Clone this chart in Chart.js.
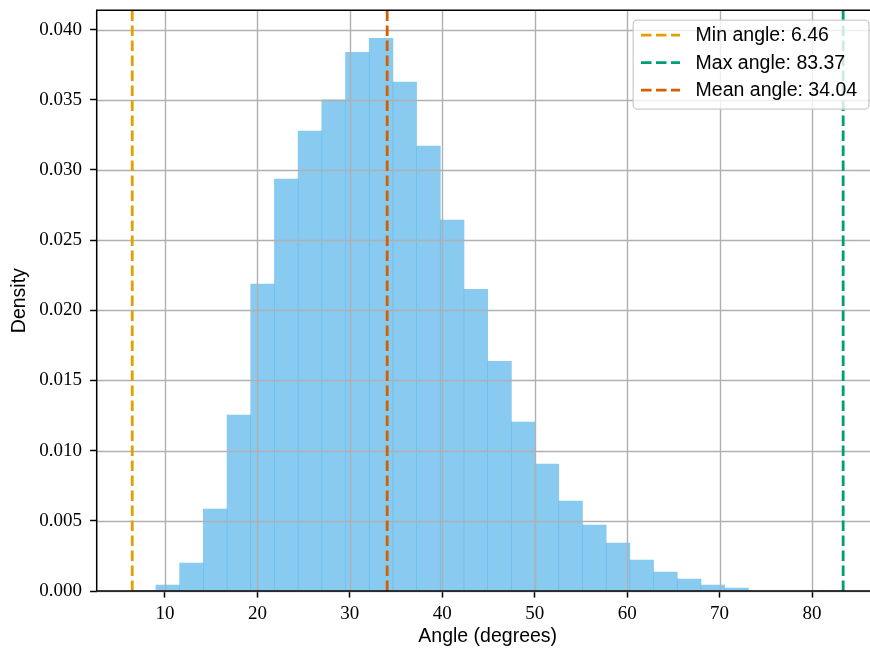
<!DOCTYPE html>
<html lang="en">
<head>
    <meta charset="UTF-8">
    <title>Angle distribution</title>
    <style>
        body {
            margin: 0;
            overflow: hidden;
            background-color: #fff;
        }
        .chart-container {
            width: 880px;
            height: 650px;
        }
    </style>
</head>
<body>
    <div class="chart-container">
        <canvas id="histChart"></canvas>
    </div>

    <script src="https://cdn.jsdelivr.net/npm/chart.js"></script>
    <script>
        // Histogram bin edges (30 bins between min and max angle)
        var binEdges = [6.46, 9.024, 11.587, 14.151, 16.715, 19.278, 21.842, 24.406, 26.969, 29.533,
            32.097, 34.66, 37.224, 39.788, 42.351, 44.915, 47.479, 50.042, 52.606, 55.17,
            57.733, 60.297, 62.861, 65.424, 67.988, 70.552, 73.115, 75.679, 78.243, 80.806, 83.37];
        // Density per bin
        var density = [0.00001, 0.00043, 0.00199, 0.00583, 0.01253, 0.02186, 0.02934, 0.03276, 0.03499, 0.03838,
            0.03938, 0.03625, 0.03169, 0.02642, 0.0215, 0.01637, 0.01203, 0.00904, 0.0064, 0.00469,
            0.00341, 0.0022, 0.00135, 0.00085, 0.00043, 0.0002, 0, 0, 0, 0.00001];

        var minAngle = 6.46;
        var maxAngle = 83.37;
        var meanAngle = 34.04;

        var xTicks = [10, 20, 30, 40, 50, 60, 70, 80];
        var yTicks = [0, 0.005, 0.01, 0.015, 0.02, 0.025, 0.03, 0.035, 0.04];

        var xMin = 2.615, xMax = 87.215;
        var yMin = 0, yMax = 0.04137;

        var serif = "'Liberation Serif', 'DejaVu Serif', serif";
        var sans = "'Liberation Sans', Arial, sans-serif";
        var dash = [10.5, 4.5];

        var barData = density.map(function (d, i) {
            return { x: (binEdges[i] + binEdges[i + 1]) / 2, y: d };
        });

        function vline(label, value, color) {
            return {
                type: 'line',
                label: label + ': ' + value.toFixed(2),
                data: [{ x: value, y: yMin }, { x: value, y: yMax }],
                borderColor: color,
                borderWidth: 2.8,
                borderDash: dash,
                pointRadius: 0,
                fill: false,
                order: 0
            };
        }

        // grid above the bars but below the dashed lines, like matplotlib
        var gridPlugin = {
            id: 'gridOverBars',
            afterDatasetDraw: function (chart, args) {
                if (args.index !== 0) return;
                var ctx = chart.ctx, area = chart.chartArea;
                var xs = chart.scales.x, ys = chart.scales.y;
                ctx.save();
                ctx.strokeStyle = '#b0b0b0';
                ctx.lineWidth = 1.4;
                ctx.beginPath();
                xTicks.forEach(function (v) {
                    var px = Math.round(xs.getPixelForValue(v)) + 0.5;
                    ctx.moveTo(px, area.top);
                    ctx.lineTo(px, area.bottom);
                });
                yTicks.forEach(function (v) {
                    var py = Math.round(ys.getPixelForValue(v)) + 0.5;
                    ctx.moveTo(area.left, py);
                    ctx.lineTo(area.right, py);
                });
                ctx.stroke();
                ctx.restore();
            },
            afterDatasetsDraw: function (chart) {
                var ctx = chart.ctx, area = chart.chartArea;
                ctx.save();
                ctx.strokeStyle = '#000';
                ctx.lineWidth = 1.5;
                ctx.beginPath();
                ctx.moveTo(area.left, area.bottom);
                ctx.lineTo(area.left, area.top);
                ctx.lineTo(area.right, area.top);
                ctx.moveTo(area.left, area.bottom);
                ctx.lineTo(area.right, area.bottom);
                ctx.moveTo(area.right, area.top);
                ctx.lineTo(area.right, area.bottom);
                ctx.stroke();
                ctx.restore();
            }
        };

        // matplotlib-style legend box in the upper right
        var legendPlugin = {
            id: 'boxLegend',
            afterDraw: function (chart) {
                var ctx = chart.ctx, area = chart.chartArea;
                var fs = 19.5;
                var items = chart.data.datasets.slice(1);
                ctx.save();
                ctx.font = fs + 'px ' + sans;
                var textW = 0;
                items.forEach(function (d) { textW = Math.max(textW, ctx.measureText(d.label).width); });
                var pad = 0.4 * fs, handle = 2 * fs, gap = 0.8 * fs, rowH = 27.5;
                var w = pad + handle + gap + textW + pad + 4;
                var h = 89;
                var x1 = area.right - 0.5 * fs, y0 = area.top + 0.5 * fs;
                var x0 = x1 - w;
                ctx.beginPath();
                ctx.roundRect(x0, y0, w, h, 4);
                ctx.fillStyle = 'rgba(255,255,255,0.8)';
                ctx.fill();
                ctx.strokeStyle = '#cccccc';
                ctx.lineWidth = 1.3;
                ctx.stroke();
                items.forEach(function (d, i) {
                    var cy = y0 + 15 + i * rowH;
                    ctx.beginPath();
                    ctx.setLineDash(d.borderDash);
                    ctx.strokeStyle = d.borderColor;
                    ctx.lineWidth = d.borderWidth;
                    ctx.moveTo(x0 + pad, cy);
                    ctx.lineTo(x0 + pad + handle, cy);
                    ctx.stroke();
                    ctx.setLineDash([]);
                    ctx.fillStyle = '#000';
                    ctx.textBaseline = 'middle';
                    ctx.textAlign = 'left';
                    ctx.fillText(d.label, x0 + pad + handle + gap, cy + 1);
                });
                ctx.restore();
            }
        };

        var histCtx = document.getElementById('histChart').getContext('2d');
        var histChart = new Chart(histCtx, {
            type: 'bar',
            data: {
                datasets: [
                    {
                        type: 'bar',
                        label: 'Density',
                        data: barData,
                        backgroundColor: 'rgba(86, 180, 233, 0.7)',
                        borderWidth: 0,
                        barPercentage: 1,
                        categoryPercentage: 1,
                        order: 1
                    },
                    vline('Min angle', minAngle, '#E69F00'),
                    vline('Max angle', maxAngle, '#009E73'),
                    vline('Mean angle', meanAngle, '#D55E00')
                ]
            },
            options: {
                responsive: true,
                maintainAspectRatio: false,
                animation: false,
                devicePixelRatio: 1,
                layout: { padding: { top: 10.3, right: 1.3, left: 0, bottom: 0 } },
                plugins: {
                    legend: { display: false },
                    tooltip: { enabled: false }
                },
                scales: {
                    x: {
                        type: 'linear',
                        min: xMin,
                        max: xMax,
                        offset: false,
                        afterBuildTicks: function (scale) {
                            scale.ticks = xTicks.map(function (v) { return { value: v }; });
                        },
                        afterFit: function (scale) {
                            scale.height = 59;
                            scale.paddingLeft = 0;
                            scale.paddingRight = 0;
                        },
                        grid: {
                            offset: false,
                            color: 'rgba(0,0,0,0)',
                            tickColor: '#000',
                            tickLength: 6.6,
                            tickWidth: 1.5
                        },
                        border: { display: false },
                        ticks: {
                            color: '#000',
                            padding: 7,
                            maxRotation: 0,
                            font: { family: serif, size: 19, lineHeight: 1 },
                            callback: function (v) { return String(v); }
                        },
                        title: {
                            display: true,
                            text: 'Angle (degrees)',
                            color: '#000',
                            padding: { top: 0, bottom: 2 },
                            font: { family: sans, size: 19.5 }
                        }
                    },
                    y: {
                        type: 'linear',
                        min: yMin,
                        max: yMax,
                        afterBuildTicks: function (scale) {
                            scale.ticks = yTicks.map(function (v) { return { value: v }; });
                        },
                        afterFit: function (scale) {
                            scale.width = 96.7;
                            scale.paddingTop = 0;
                            scale.paddingBottom = 0;
                        },
                        grid: {
                            color: 'rgba(0,0,0,0)',
                            tickColor: '#000',
                            tickLength: 6.6,
                            tickWidth: 1.5
                        },
                        border: { display: false },
                        ticks: {
                            color: '#000',
                            padding: 8,
                            font: { family: serif, size: 19, lineHeight: 1 },
                            callback: function (v) { return v.toFixed(3); }
                        },
                        title: {
                            display: true,
                            text: 'Density',
                            color: '#000',
                            padding: { top: 7.5, bottom: 0 },
                            font: { family: sans, size: 19.5 }
                        }
                    }
                }
            },
            plugins: [gridPlugin, legendPlugin]
        });
    </script>
</body>
</html>
